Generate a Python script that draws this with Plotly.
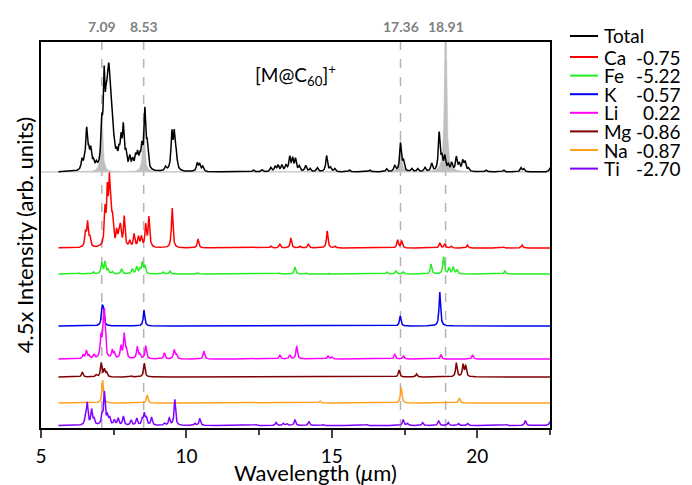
import numpy as np
import plotly.graph_objects as go

# wavelength grid (um)
wl = np.arange(5.6, 22.56, 0.004)

# reference peaks (gray filled) and their labels
ref_pos = [7.09, 8.53, 17.36, 18.91]
ref_amp = [60, 50, 33, 175]
ref_labels = ['7.09', '8.53', '17.36', '18.91']

# total spectrum peaks
total_pos = [6.41, 6.50, 6.57, 6.64, 6.71, 6.80, 6.90, 7.09, 7.17, 7.24, 7.29, 7.33, 7.37, 7.41, 7.46,
             7.52, 7.60, 7.68, 7.75, 7.83, 7.92, 8.05, 8.15, 8.25, 8.32, 8.40, 8.47, 8.57, 8.65,
             9.28, 9.50, 9.58, 9.65, 10.37, 10.45, 10.56, 12.3, 12.6, 12.9, 13.05, 13.15, 13.28,
             13.42, 13.55, 13.65, 13.75, 13.88, 14.1, 14.25, 14.5, 14.82, 14.95, 15.1, 15.6, 16.3,
             16.88, 17.16, 17.36, 17.46, 17.75, 17.95, 18.2, 18.43, 18.69, 18.78, 18.88, 19.0, 19.12,
             19.28, 19.38, 19.5, 19.58, 19.7, 20.3, 20.9, 21.5, 21.6, 22.5]
total_amp = [10, 8, 38, 14, 18, 7, 5, 38, 82, 44, 48, 50, 46, 30, 24,
             15, 12, 14, 26, 40, 14, 12, 9, 12, 14, 10, 20, 58, 22,
             4, 36, 34, 14, 8, 7, 5, 2, 2, 4, 5, 6, 6,
             6, 14, 12, 12, 5, 6, 3, 4, 16, 4, 3, 2, 2,
             3, 6, 28, 10, 3, 3, 4, 8, 38, 12, 14, 6, 8,
             14, 7, 10, 9, 3, 2, 2, 4, 3, 4]

ca_pos = [6.53, 6.60, 6.68, 7.20, 7.28, 7.35, 7.40, 7.46, 7.60, 7.68, 7.73, 7.86, 8.05, 8.20, 8.35,
          8.45, 8.60, 8.71, 9.51, 10.40, 12.9, 13.21, 13.59, 13.9, 14.19, 14.84, 15.1, 17.26, 17.40,
          18.71, 18.88, 19.1, 19.66, 20.9, 21.54]
ca_amp = [14, 24, 9, 34, 50, 56, 32, 22, 14, 12, 18, 30, 6, 13, 10,
          10, 22, 30, 40, 9, 2, 4, 10, 2, 4, 17, 2, 8, 7,
          5, 4, 2, 3, 1, 3]

fe_pos = [6.3, 6.8, 7.09, 7.20, 7.30, 7.45, 7.77, 8.14, 8.29, 8.40, 8.48, 8.57, 9.2, 9.43, 10.4,
          13.2, 13.73, 14.1, 14.9, 16.9, 17.2, 17.45, 18.41, 18.84, 19.03, 19.17, 19.3, 20.95]
fe_amp = [1, 2, 11, 12, 4, 2, 5, 5, 7, 4, 11, 8, 2, 3, 1,
          1, 7, 1, 1, 2, 3, 2, 10, 17, 6, 7, 4, 3]

k_pos = [7.10, 7.14, 8.54, 17.35, 18.71]
k_amp = [16, 14, 16, 10, 34]

li_pos = [6.45, 6.56, 6.65, 6.82, 7.06, 7.14, 7.18, 7.45, 7.52, 7.75, 7.86, 7.93, 8.31, 8.40, 8.60,
          9.24, 9.58, 9.65, 10.6, 13.21, 13.55, 13.79, 14.87, 15.0, 17.16, 17.46, 18.75, 19.84]
li_amp = [4, 8, 3, 4, 20, 30, 38, 8, 5, 12, 24, 8, 12, 4, 13,
          6, 9, 4, 8, 4, 4, 13, 3, 2, 5, 3, 4, 4]

mg_pos = [6.42, 6.9, 7.07, 7.18, 7.25, 8.1, 8.55, 17.31, 17.91, 19.28, 19.51, 19.60]
mg_amp = [5, 2, 14, 7, 4, 1, 14, 7, 3, 14, 12, 11]

na_pos = [7.12, 8.65, 14.59, 17.38, 19.38]
na_amp = [23, 8, 2, 16, 5]

ti_pos = [6.52, 6.59, 6.74, 6.82, 7.10, 7.18, 7.28, 7.36, 7.52, 7.65, 7.83, 8.10, 8.29, 8.48, 8.55,
          8.62, 8.80, 9.25, 9.41, 9.60, 10.29, 10.46, 12.4, 13.08, 13.33, 13.45, 13.73, 14.21, 14.7,
          16.2, 17.45, 17.6, 18.12, 18.67, 19.0, 19.35, 19.67, 21.0, 21.65, 22.5]
ti_amp = [6, 22, 15, 6, 10, 32, 9, 7, 5, 7, 9, 5, 7, 6, 11,
          7, 8, 2, 7, 26, 2, 7, 1, 3, 2, 2, 6, 4, 1,
          1, 6, 2, 3, 5, 3, 2, 2, 1, 5, 4]

names = ['Ca', 'Fe', 'K', 'Li', 'Mg', 'Na', 'Ti']
energies = ['-0.75', '-5.22', '-0.57', '0.22', '-0.86', '-0.87', '-2.70']
colors = ['#ff0000', '#22ee22', '#0000ee', '#ff00ff', '#7f0000', '#ffa020', '#8000ff']
offsets = [180, 154, 102, 69, 51, 25, 2.5]
total_offset = 256

peak_pos = [ca_pos, fe_pos, k_pos, li_pos, mg_pos, na_pos, ti_pos]
peak_amp = [ca_amp, fe_amp, k_amp, li_amp, mg_amp, na_amp, ti_amp]


def lorentz(x, pos, amp, hw=0.03):
    y = np.zeros_like(x)
    for p, a in zip(pos, amp):
        y += a * hw ** 2 / ((x - p) ** 2 + hw ** 2)
    return y


fig = go.Figure()

# gray reference spectrum under the total
wl_ref = np.arange(5.0, 22.56, 0.004)
fig.add_trace(go.Scatter(x=wl_ref, y=np.full_like(wl_ref, total_offset), mode='lines',
                         line=dict(color='#c8c8c8', width=1), showlegend=False, hoverinfo='skip'))
fig.add_trace(go.Scatter(x=wl_ref, y=total_offset + lorentz(wl_ref, ref_pos, ref_amp, 0.04),
                         mode='lines', fill='tonexty', fillcolor='#c0c0c0',
                         line=dict(color='#c0c0c0', width=0.5), showlegend=False, hoverinfo='skip'))

fig.add_trace(go.Scatter(x=wl, y=total_offset + lorentz(wl, total_pos, total_amp, 0.035),
                         mode='lines', line=dict(color='black', width=1.5), name='Total'))

for i in range(len(names)):
    fig.add_trace(go.Scatter(x=wl, y=offsets[i] + lorentz(wl, peak_pos[i], peak_amp[i]),
                             mode='lines', line=dict(color=colors[i], width=1.5), name=names[i]))

# dashed markers at the reference peaks
for p, lab in zip(ref_pos, ref_labels):
    fig.add_shape(type='line', x0=p, x1=p, y0=0, y1=1, xref='x', yref='paper',
                  line=dict(color='#b4b4b4', width=1.5, dash='dash'), layer='below')
    fig.add_annotation(x=p, y=1.04, xref='x', yref='paper', text='<b>' + lab + '</b>',
                       showarrow=False, font=dict(size=14, color='#808080'), yanchor='middle')

fig.add_annotation(x=13.75, y=353, text='[M@C<sub>60</sub>]<sup>+</sup>', showarrow=False,
                   font=dict(size=19, color='black'))

# x title as an annotation so it can sit a bit lower
fig.add_annotation(x=(315 - 41) / 509, y=(428 - 472) / 386, xref='paper', yref='paper',
                   text='Wavelength (<i>μ</i>m)', showarrow=False, yanchor='middle',
                   font=dict(size=22))

# hand made legend to keep the rows tight (rows given in page pixels)
leg_rows = [36, 57, 75.6, 94.2, 112.8, 131.4, 150, 168.6]
leg_names = ['Total'] + names
leg_colors = ['black'] + colors
leg_vals = [''] + energies
for r, n, c, v in zip(leg_rows, leg_names, leg_colors, leg_vals):
    yp = (428 - r) / 386
    fig.add_shape(type='line', x0=(570 - 41) / 509, x1=(598 - 41) / 509, y0=yp, y1=yp,
                  xref='paper', yref='paper', line=dict(color=c, width=2))
    fig.add_annotation(x=(602 - 41) / 509, y=yp, xref='paper', yref='paper', text=n,
                       showarrow=False, xanchor='left', yanchor='middle', font=dict(size=19))
    if v:
        fig.add_annotation(x=(683 - 41) / 509, y=yp, xref='paper', yref='paper', text=v,
                           showarrow=False, xanchor='right', yanchor='middle', font=dict(size=19))

# the page body adds an 8px margin, so the figure is 8px smaller each way
fig.update_layout(
    width=684, height=477,
    margin=dict(l=33, r=142, t=34, b=57),
    paper_bgcolor='white', plot_bgcolor='white',
    showlegend=False,
    font=dict(family='Lato', size=19, color='black'),
    xaxis=dict(range=[5, 22.5], tickvals=[5, 10, 15, 20], ticks='outside', ticklen=8, tickwidth=1.5,
               minor=dict(tickvals=[7.5, 12.5, 17.5, 22.5], ticks='outside', ticklen=5, tickwidth=1.5),
               showline=True, linecolor='black', linewidth=1.5, mirror=True, showgrid=False,
               zeroline=False, automargin=False, tickfont=dict(size=19), ticklabelstandoff=2),
    yaxis=dict(range=[0, 386], showticklabels=False, ticks='', showline=True, linecolor='black',
               linewidth=1.5, mirror=True, showgrid=False, zeroline=False, automargin=False,
               title=dict(text='4.5x Intensity (arb. units)', standoff=0, font=dict(size=22))),
)

fig.write_html('out.html')
